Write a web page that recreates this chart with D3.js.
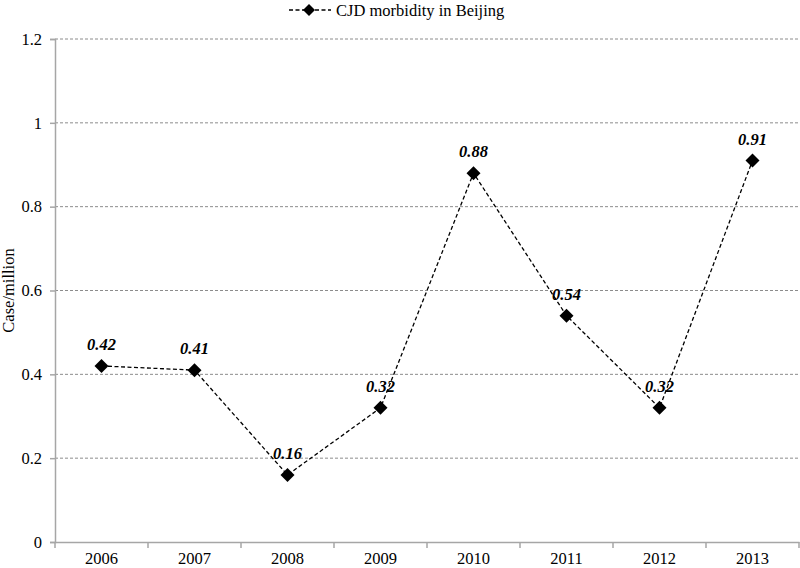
<!DOCTYPE html>
<html><head><meta charset="utf-8">
<script src="https://cdn.jsdelivr.net/npm/d3@7"></script>
<style>body{margin:0;background:#fff}svg{display:block}text{font-family:"Liberation Serif","Times New Roman",serif}</style>
</head><body><svg id="c" width="800" height="568"></svg>
<script>
const years = ["2006","2007","2008","2009","2010","2011","2012","2013"];
const morbidity = [0.42,0.41,0.16,0.32,0.88,0.54,0.32,0.91];
const yTicks = [0,0.2,0.4,0.6,0.8,1,1.2];
const seriesName = "CJD morbidity in Beijing";

const svg = d3.select("#c");
const m = {l:55, r:1, t:39, b:26};
const W = 800, H = 568;
const FS = 16.5;
const x = d3.scaleBand().domain(years).range([m.l, W - m.r]);
const y = d3.scaleLinear().domain([0,1.2]).range([H - m.b, m.t]);
const axisCol = "#a6a6a6";

// gridlines
svg.append("g").selectAll("line").data(yTicks.filter(d=>d>0)).join("line")
  .attr("x1", m.l).attr("x2", W - m.r)
  .attr("y1", d=>y(d)).attr("y2", d=>y(d))
  .attr("stroke", "#8c8c8c").attr("stroke-width", 1).attr("stroke-dasharray", "3,2");

// y axis
const ya = svg.append("g").attr("transform", `translate(${m.l},0)`)
  .call(d3.axisLeft(y).tickValues(yTicks).tickSize(5).tickPadding(8).tickFormat(d=>String(d)));
ya.select(".domain").attr("stroke", axisCol).attr("stroke-width", 1.5);
ya.selectAll(".tick line").attr("stroke", axisCol).attr("stroke-width", 1.5);
ya.selectAll("text").attr("font-size", FS).attr("fill", "#000").attr("font-family", "Liberation Serif");

// x axis
const xa = svg.append("g").attr("transform", `translate(0,${y(0)})`)
  .call(d3.axisBottom(x).tickSize(0).tickPadding(10));
xa.select(".domain").attr("stroke", axisCol).attr("stroke-width", 1.5);
xa.selectAll("text").attr("font-size", FS).attr("fill", "#000").attr("font-family", "Liberation Serif");
const bounds = years.map(d=>x(d)).concat([x(years[years.length-1]) + x.bandwidth()]);
svg.append("g").selectAll("line").data(bounds).join("line")
  .attr("x1", d=>d).attr("x2", d=>d).attr("y1", y(0)).attr("y2", y(0)+6)
  .attr("stroke", axisCol).attr("stroke-width", 1.5);

// y label
svg.append("text").attr("transform", `translate(14,${(y(0)+y(1.2))/2}) rotate(-90)`)
  .attr("text-anchor","middle").attr("font-size", FS).text("Case/million");

// line
const cx = d => x(d) + x.bandwidth()/2;
const line = d3.line().x((d,i)=>cx(years[i])).y(d=>y(d));
svg.append("path").datum(morbidity).attr("d", line).attr("fill","none")
  .attr("stroke","#000").attr("stroke-width",1.3).attr("stroke-dasharray","4,2.5");

const dpath = "M0,-7L7,0L0,7L-7,0Z";
svg.append("g").selectAll("path").data(morbidity).join("path")
  .attr("d", dpath)
  .attr("transform",(d,i)=>`translate(${cx(years[i])},${y(d)})`).attr("fill","#000");

// value labels
svg.append("g").selectAll("text").data(morbidity).join("text")
  .attr("x",(d,i)=>cx(years[i])).attr("y", d=>y(d)-16)
  .attr("text-anchor","middle").attr("font-size",FS).attr("font-weight","bold").attr("font-style","italic")
  .text(d=>d.toFixed(2));

// legend
const lg = svg.append("g").attr("transform","translate(289,10)");
lg.append("line").attr("x1",0).attr("x2",42).attr("y1",0).attr("y2",0)
  .attr("stroke","#000").attr("stroke-width",1.3).attr("stroke-dasharray","4,2.5");
lg.append("path").attr("d","M0,-6L6,0L0,6L-6,0Z").attr("transform","translate(20,0)");
lg.append("text").attr("x",47).attr("y",5.5).attr("font-size",FS).text(seriesName);
</script></body></html>
